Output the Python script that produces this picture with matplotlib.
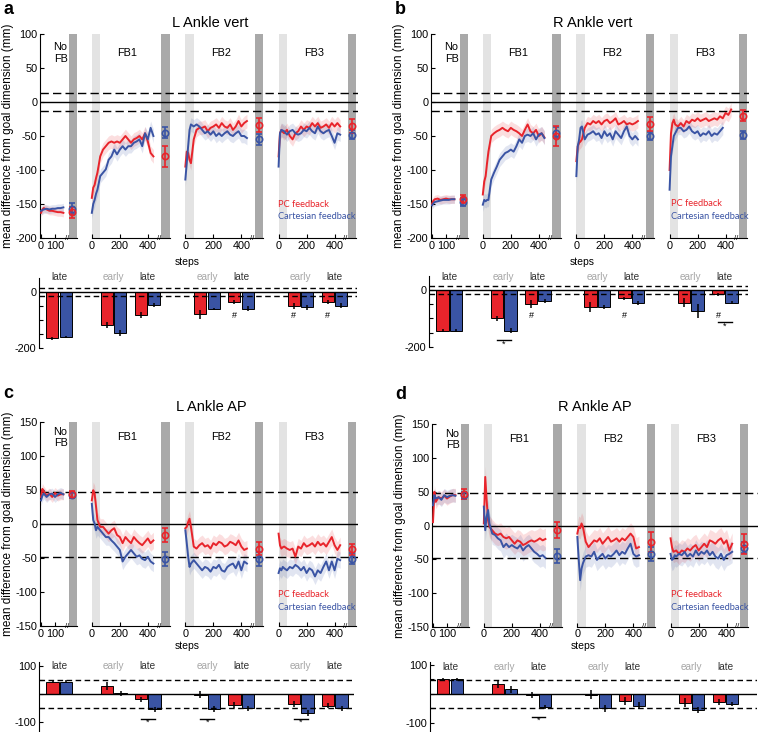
import matplotlib.pyplot as plt

plt.rcParams['font.family'] = ['Liberation Sans', 'DejaVu Sans']
plt.rcParams['axes.unicode_minus'] = False
plt.rcParams['xtick.direction'] = 'in'
plt.rcParams['ytick.direction'] = 'in'
plt.rcParams['font.size'] = 7.5

W, H = 758, 732
RED = '#e8242b'
BLUE = '#3a54a4'
LIGHT = '#e3e3e3'
DARK = '#a9a9a9'
PX = 0.14  # pixels per step on the time axes

# ---------------- data ----------------
seg_names = ['No\nFB', 'FB1', 'FB2', 'FB3']
seg_offset = [0, 363, 1031, 1697]
nofb_steps = [0, 10, 20, 40, 60, 80, 100, 120, 140, 160]
fb_steps = [0, 10, 20, 30, 40, 60, 80, 100, 120, 140, 160, 180, 200, 220,
            240, 260, 280, 300, 320, 340, 360, 380, 400, 420, 440]

# a: L Ankle vert
a_red_nofb = [-163, -158, -156, -158, -160, -160, -161, -162, -162, -163]
a_blue_nofb = [-160, -159, -158, -157, -158, -157, -157, -156, -156, -155]
a_red_fb1 = [-141, -126, -122, -112, -104, -80, -70, -65, -60, -58, -60, -58, -60, -55,
             -50, -55, -60, -55, -53, -50, -55, -46, -58, -75, -80]
a_blue_fb1 = [-163, -150, -144, -135, -129, -109, -104, -99, -85, -80, -70, -77, -70, -65,
              -70, -65, -65, -60, -58, -55, -65, -46, -55, -38, -50]
a_red_fb2 = [-95, -73, -75, -85, -90, -55, -41, -38, -38, -36, -43, -38, -36, -33,
             -38, -31, -36, -38, -33, -41, -36, -28, -36, -31, -28]
a_blue_fb2 = [-114, -90, -65, -41, -33, -36, -33, -36, -41, -46, -43, -48, -43, -50,
              -46, -50, -46, -43, -48, -50, -46, -43, -50, -50, -53]
a_red_fb3 = [-80, -46, -41, -44, -46, -41, -50, -55, -46, -43, -36, -41, -36, -38,
             -31, -36, -31, -38, -36, -33, -38, -31, -36, -31, -36]
a_blue_fb3 = [-95, -46, -41, -42, -43, -48, -43, -41, -46, -48, -46, -41, -43, -38,
              -43, -46, -36, -43, -46, -43, -41, -50, -60, -46, -48]
a_red_dot = [-162, -80, -34, -35]
a_red_dot_err = [8, 15, 10, 10]
a_blue_dot = [-157, -45, -55, -48]
a_blue_dot_err = [8, 8, 8, 7]
a_sd = [6, 10, 10, 10]
a_bar_red = [-165, -118, -82, -80, -35, -49, -35]
a_bar_red_err = [5, 10, 12, 15, 8, 10, 8]
a_bar_blue = [-161, -147, -47, -61, -59, -55, -49]
a_bar_blue_err = [5, 10, 7, 5, 8, 8, 8]

# b: R Ankle vert
b_red_nofb = [-150, -145, -143, -142, -144, -143, -142, -143, -143, -143]
b_blue_nofb = [-152, -149, -147, -146, -145, -144, -144, -144, -143, -143]
b_red_fb1 = [-136, -117, -109, -90, -73, -50, -46, -43, -41, -38, -41, -43, -38, -41,
             -43, -46, -50, -41, -33, -43, -46, -41, -50, -46, -52]
b_blue_fb1 = [-151, -144, -146, -144, -144, -114, -104, -95, -85, -80, -75, -73, -70, -73,
              -65, -55, -60, -50, -48, -50, -46, -55, -48, -46, -53]
b_red_fb2 = [-87, -65, -60, -58, -55, -38, -31, -33, -28, -31, -28, -33, -28, -26,
             -31, -28, -24, -33, -31, -28, -33, -31, -33, -31, -28]
b_blue_fb2 = [-109, -65, -55, -38, -36, -55, -48, -46, -43, -48, -46, -53, -43, -50,
              -46, -55, -43, -48, -53, -43, -36, -50, -55, -50, -55]
b_red_fb3 = [-100, -46, -31, -26, -33, -36, -31, -36, -28, -31, -26, -28, -24, -28,
             -26, -24, -28, -26, -24, -26, -21, -24, -16, -19, -11]
b_blue_fb3 = [-129, -80, -65, -50, -46, -38, -38, -43, -41, -36, -43, -46, -43, -50,
              -46, -48, -43, -50, -46, -48, -43, -38]
b_red_dot = [-143, -50, -32, -20]
b_red_dot_err = [6, 15, 10, 8]
b_blue_dot = [-147, -45, -50, -48]
b_blue_dot_err = [6, 8, 6, 6]
b_sd = [6, 10, 10, 10]
b_bar_red = [-143, -100, -49, -59, -29, -44, -15]
b_bar_red_err = [5, 10, 15, 18, 6, 15, 6]
b_bar_blue = [-143, -143, -39, -59, -47, -74, -44]
b_bar_blue_err = [5, 10, 8, 6, 7, 25, 6]

# c: L Ankle AP
c_red_nofb = [40, 52, 48, 42, 45, 40, 46, 42, 44, 44]
c_blue_nofb = [35, 42, 45, 40, 44, 45, 40, 44, 46, 44]
c_red_fb1 = [35, 50, 45, 26, 6, -4, -4, -9, -14, -9, -6, -16, -19, -28,
             -19, -24, -28, -19, -24, -28, -31, -26, -21, -28, -24]
c_blue_fb1 = [30, 6, 1, -9, -4, -9, -14, -19, -19, -24, -28, -33, -38, -55,
              -48, -43, -38, -43, -48, -46, -51, -53, -48, -55, -58]
c_red_fb2 = [-6, -4, 3, 8, -4, -33, -36, -31, -28, -33, -31, -36, -28, -31,
             -26, -28, -33, -31, -26, -28, -31, -24, -33, -38, -36]
c_blue_fb2 = [-9, -28, -48, -63, -58, -53, -58, -63, -68, -63, -65, -70, -63, -65,
              -60, -68, -70, -63, -60, -58, -65, -55, -68, -55, -58]
c_red_fb3 = [-14, -31, -36, -34, -33, -36, -38, -36, -48, -33, -36, -28, -33, -31,
             -28, -33, -26, -31, -28, -33, -26, -19, -31, -38, -31]
c_blue_fb3 = [-72, -65, -68, -63, -65, -68, -63, -65, -60, -63, -68, -63, -72, -65,
              -68, -77, -68, -72, -63, -55, -68, -55, -68, -51, -53]
c_red_dot = [44, -16, -36, -37]
c_red_dot_err = [5, 10, 10, 8]
c_blue_dot = [43, -51, -51, -51]
c_blue_dot_err = [5, 10, 10, 8]
c_sd = [8, 12, 12, 12]
c_bar_red = [44, 28, -19, -2, -39, -36, -41]
c_bar_red_err = [5, 15, 10, 12, 10, 10, 8]
c_bar_blue = [44, 2, -54, -54, -51, -68, -51]
c_bar_blue_err = [5, 8, 8, 10, 10, 10, 8]

# d: R Ankle AP
d_red_nofb = [5, 50, 35, 42, 40, 44, 40, 43, 45, 45]
d_blue_nofb = [30, 45, 40, 42, 38, 45, 42, 44, 45, 44]
d_red_fb1 = [3, 72, 38, 8, -2, -7, -12, -14, -12, -17, -19, -17, -22, -27,
             -22, -24, -29, -27, -24, -22, -24, -22, -19, -22, -20]
d_blue_fb1 = [28, -7, 13, 23, 3, -12, -14, -19, -22, -32, -27, -32, -29, -32,
              -34, -29, -37, -32, -29, -34, -39, -42, -46, -44, -48]
d_red_fb2 = [-12, -2, -4, 3, -2, -24, -32, -27, -22, -24, -19, -27, -22, -17,
             -24, -22, -19, -24, -19, -22, -17, -12, -17, -34, -32]
d_blue_fb2 = [-17, -51, -81, -64, -56, -46, -44, -46, -39, -51, -46, -42, -49, -44,
              -46, -42, -37, -44, -39, -42, -34, -27, -42, -46, -44]
d_red_fb3 = [-19, -32, -39, -38, -37, -42, -37, -39, -34, -37, -32, -29, -37, -32,
             -27, -32, -22, -24, -27, -22, -19, -27, -22, -37, -27]
d_blue_fb3 = [-42, -51, -49, -44, -46, -42, -44, -39, -46, -42, -46, -37, -44, -39,
              -42, -37, -44, -39, -46, -49, -42, -51, -44, -42, -39]
d_red_dot = [47, -7, -24, -27]
d_red_dot_err = [7, 12, 15, 15]
d_blue_dot = [45, -45, -42, -33]
d_blue_dot_err = [5, 10, 10, 8]
d_sd = [10, 16, 16, 16]
d_bar_red = [51, 34, -3, -3, -24, -30, -27]
d_bar_red_err = [5, 15, 10, 15, 15, 15, 10]
d_bar_blue = [51, 16, -45, -49, -41, -54, -35]
d_bar_blue_err = [5, 12, 8, 12, 12, 10, 8]

bar_pos = [0, 1.6, 2.6, 4.35, 5.35, 7.1, 8.1]
bar_labels = ['late', 'early', 'late', 'early', 'late', 'early', 'late']

fig = plt.figure(figsize=(W / 100, H / 100), dpi=100)


def add_ax(left, top, width, height):
    return fig.add_axes([left / W, 1 - (top + height) / H, width / W, height / H])


def line_panel(ax, title, title_x, title_y, ylim, yticks, tol, red, blue, sd,
               red_dot, red_err, blue_dot, blue_err, label_y, xmax, leg_x, leg_y, steps_xy):
    ymin = ylim[0]
    for k, off in enumerate(seg_offset):
        if k == 0:
            steps = nofb_steps
            dark = (200, 260)
            dot_x, label_x, break_x, seg_end = 220, 140, 188, 260
        else:
            steps = fb_steps
            dark = (495, 555)
            dot_x, label_x, break_x, seg_end = 525, 255, 478, 555
            ax.axvspan(off, off + 60, color=LIGHT, lw=0, zorder=0)
        ax.axvspan(off + dark[0], off + dark[1], color=DARK, lw=0, zorder=0)

        for vals, col in ((red[k], RED), (blue[k], BLUE)):
            x = [off + s for s in steps[:len(vals)]]
            ax.fill_between(x, [v - sd[k] for v in vals], [v + sd[k] for v in vals],
                            color=col, alpha=0.15, lw=0, zorder=1)
            ax.plot(x, vals, color=col, lw=1.4, zorder=3)

        for val, err, col in ((blue_dot[k], blue_err[k], BLUE), (red_dot[k], red_err[k], RED)):
            ax.errorbar([off + dot_x], [val], yerr=[err], fmt='o', mfc='none', mec=col,
                        ecolor=col, ms=4.5, mew=1.2, elinewidth=1.2, capsize=2,
                        capthick=1.2, zorder=4)

        ax.plot([off, off + seg_end], [ymin, ymin], color='k', lw=0.8,
                clip_on=False, zorder=5)
        ax.text(off + break_x, ymin, '//', ha='center', va='center', fontsize=5.5,
                zorder=6)
        ax.text(off + label_x, label_y, seg_names[k], ha='center', va='center',
                fontsize=7.8, linespacing=1.15)

    xt, xl = [], []
    for k, off in enumerate(seg_offset):
        for t in ([0, 100] if k == 0 else [0, 200, 400]):
            xt.append(off + t)
            xl.append(str(t))
    ax.set_xticks(xt)
    ax.set_xticklabels(xl)

    ax.axhline(0, color='k', lw=1.0, zorder=2)
    for t in (tol, -tol):
        ax.axhline(t, color='k', lw=1.0, ls=(0, (6, 3)), zorder=2)

    ax.set_xlim(-5, xmax)
    ax.set_ylim(*ylim)
    ax.set_yticks(yticks)
    for s in ('top', 'right', 'bottom'):
        ax.spines[s].set_visible(False)
    ax.spines['left'].set_linewidth(0.8)
    ax.tick_params(length=3, width=0.8, labelsize=7.8, pad=2)
    ax.set_ylabel('mean difference from goal dimension (mm)', fontsize=8.5)
    ax.yaxis.set_label_coords(-0.082, 0.5)

    ax.text(title_x, title_y, title, transform=ax.transAxes, ha='center', va='center',
            fontsize=10.5)
    ax.text(steps_xy[0], steps_xy[1], 'steps', transform=ax.transAxes, ha='center',
            va='center', fontsize=7.5)
    ax.text(leg_x, leg_y[0], 'PC feedback', transform=ax.transAxes, color=RED,
            fontsize=6.7, family=['Lato', 'DejaVu Sans'], va='center', zorder=6)
    ax.text(leg_x, leg_y[1], 'Cartesian feedback', transform=ax.transAxes, color=BLUE,
            fontsize=6.7, family=['Lato', 'DejaVu Sans'], va='center', zorder=6)


def bar_panel(ax, red, red_err, blue, blue_err, ylim, yticks, ylabels, tol, label_y,
              hashes, hash_y, stars, width_px):
    xr = [p - 0.2 for p in bar_pos]
    xb = [p + 0.2 for p in bar_pos]
    ax.bar(xr, red, width=0.36, color=RED, edgecolor='k', lw=0.7, zorder=3)
    ax.bar(xb, blue, width=0.36, color=BLUE, edgecolor='k', lw=0.7, zorder=3)
    ax.errorbar(xr, red, yerr=red_err, fmt='none', ecolor='k', elinewidth=1.1,
                capsize=0, zorder=4)
    ax.errorbar(xb, blue, yerr=blue_err, fmt='none', ecolor='k', elinewidth=1.1,
                capsize=0, zorder=4)
    ax.axhline(0, color='k', lw=1.0, zorder=5)
    for t in (tol, -tol):
        ax.axhline(t, color='k', lw=1.0, ls=(0, (4, 2.5)), zorder=5)
    for p, lab in zip(bar_pos, bar_labels):
        ax.text(p, label_y, lab, ha='center', va='center', fontsize=7.2,
                color='#333333' if lab == 'late' else '#a6a6a6')
    for i in hashes:
        ax.text(xr[i], hash_y, '#', ha='center', va='center', fontsize=6.5)
    for i, ly, sy in stars:
        ax.plot([bar_pos[i] - 0.2, bar_pos[i] + 0.2], [ly, ly], color='k', lw=1.0)
        ax.text(bar_pos[i], sy, '*', ha='center', va='center', fontsize=6.5)
    ax.set_xlim(-0.59, -0.59 + width_px / 34)
    ax.set_ylim(*ylim)
    ax.set_yticks(yticks)
    ax.set_yticklabels(ylabels)
    ax.set_xticks([])
    for s in ('top', 'right', 'bottom'):
        ax.spines[s].set_visible(False)
    ax.spines['left'].set_linewidth(0.8)
    ax.tick_params(length=3, width=0.8, labelsize=7.8, pad=2)


vert_ticks = [-200, -150, -100, -50, 0, 50, 100]
ap_ticks = [-150, -100, -50, 0, 50, 100, 150]

ax = add_ax(40.3, 34, (2262 + 5) * PX, 204)
line_panel(ax, 'L Ankle vert', 0.536, 1.056, (-200, 100), vert_ticks, 13,
           [a_red_nofb, a_red_fb1, a_red_fb2, a_red_fb3],
           [a_blue_nofb, a_blue_fb1, a_blue_fb2, a_blue_fb3], a_sd,
           a_red_dot, a_red_dot_err, a_blue_dot, a_blue_dot_err, 72, 2262,
           0.75, (0.162, 0.103), (0.464, -0.118))

ax = add_ax(431.3, 34, (2262 + 5) * PX, 204)
line_panel(ax, 'R Ankle vert', 0.51, 1.056, (-200, 100), vert_ticks, 13,
           [b_red_nofb, b_red_fb1, b_red_fb2, b_red_fb3],
           [b_blue_nofb, b_blue_fb1, b_blue_fb2, b_blue_fb3], b_sd,
           b_red_dot, b_red_dot_err, b_blue_dot, b_blue_dot_err, 72, 2262,
           0.755, (0.167, 0.103), (0.475, -0.116))

ax = add_ax(40.3, 422.3, (2262 + 5) * PX, 203.7)
line_panel(ax, 'L Ankle AP', 0.54, 1.077, (-150, 150), ap_ticks, 48,
           [c_red_nofb, c_red_fb1, c_red_fb2, c_red_fb3],
           [c_blue_nofb, c_blue_fb1, c_blue_fb2, c_blue_fb3], c_sd,
           c_red_dot, c_red_dot_err, c_blue_dot, c_blue_dot_err, 128, 2262,
           0.75, (0.157, 0.093), (0.464, -0.098))

ax = add_ax(432.3, 424.3, (2320 + 5) * PX, 202.4)
line_panel(ax, 'R Ankle AP', 0.50, 1.087, (-150, 150), ap_ticks, 48,
           [d_red_nofb, d_red_fb1, d_red_fb2, d_red_fb3],
           [d_blue_nofb, d_blue_fb1, d_blue_fb2, d_blue_fb3], d_sd,
           d_red_dot, d_red_dot_err, d_blue_dot, d_blue_dot_err, 128, 2320,
           0.733, (0.16, 0.095), (0.463, -0.095))

vert_bar_ticks = [-200, -150, -100, -50, 0]
vert_bar_labels = ['-200', '', '', '', '0']
ap_bar_ticks = [-100, -50, 0, 50, 100]
ap_bar_labels = ['-100', '', '', '', '100']

ax = add_ax(39, 278, 318, 70)
bar_panel(ax, a_bar_red, a_bar_red_err, a_bar_blue, a_bar_blue_err, (-200, 50),
          vert_bar_ticks, vert_bar_labels, 13, 52, [4, 5, 6], -85, [], 318)

ax = add_ax(429.3, 276, 319, 70.7)
bar_panel(ax, b_bar_red, b_bar_red_err, b_bar_blue, b_bar_blue_err, (-200, 50),
          vert_bar_ticks, vert_bar_labels, 13, 47, [2, 4, 6], -88,
          [(1, -176, -191), (6, -112, -126)], 319)

ax = add_ax(39.3, 662, 315, 70)
bar_panel(ax, c_bar_red, c_bar_red_err, c_bar_blue, c_bar_blue_err, (-134, 113),
          ap_bar_ticks, ap_bar_labels, 48, 99, [], 0,
          [(2, -88, -101), (3, -88, -101), (5, -88, -101)], 315)

ax = add_ax(430, 662, 327, 70)
bar_panel(ax, d_bar_red, d_bar_red_err, d_bar_blue, d_bar_blue_err, (-131, 110),
          ap_bar_ticks, ap_bar_labels, 48, 94, [], 0,
          [(2, -78, -92)], 327)

for letter, x, y in (('a', 3, 9), ('b', 395, 9), ('c', 3, 393), ('d', 395, 394)):
    fig.text(x / W, 1 - y / H, letter, fontsize=13, fontweight='bold', va='center',
             ha='left')

fig.savefig('out.png', dpi=100)
